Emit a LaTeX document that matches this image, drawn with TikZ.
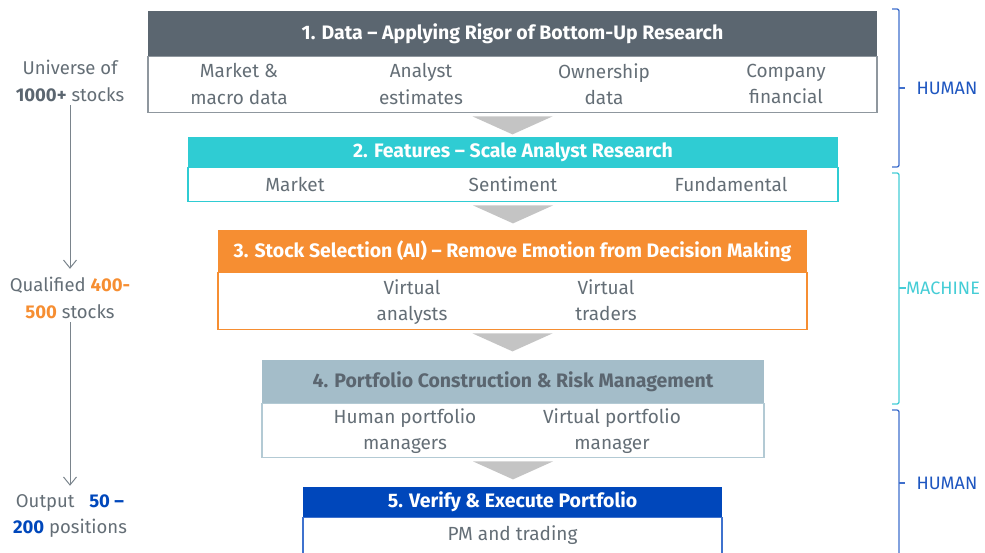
\documentclass[tikz,border=0pt]{standalone}
\usepackage{fontspec}
\setmainfont{Fira Sans}
\usetikzlibrary{positioning,arrows.meta}
\definecolor{slate}{HTML}{5B6670}
\definecolor{frame1}{HTML}{8F979E}
\definecolor{featcyan}{HTML}{2FCCD3}
\definecolor{selorange}{HTML}{F68E32}
\definecolor{portgrey}{HTML}{A4BDC9}
\definecolor{portframe}{HTML}{B3CAD4}
\definecolor{execblue}{HTML}{0047BB}
\definecolor{execframe}{HTML}{3F72CE}
\definecolor{bodytext}{HTML}{646E76}
\definecolor{wedgegrey}{HTML}{C4C4C4}
\definecolor{humanblue}{HTML}{1E56C0}
\definecolor{braceblue}{HTML}{3F6FCC}
\definecolor{machinecyan}{HTML}{45CDD6}
\definecolor{flowgrey}{HTML}{7A848C}
\begin{document}
\begin{tikzpicture}
		[x=1pt,y=-1pt,
		head/.style={minimum height=#1, inner sep=0pt, text=white,
			font=\fontsize{19.5}{22}\selectfont\bfseries},
		body/.style={minimum height=#1, inner sep=0pt, line width=1.2pt},
		txt/.style={align=center, text=bodytext, inner sep=0pt, yshift=-3pt,
			execute at begin node=\strut, execute at end node=\strut,
			font=\fontsize{19}{26.5}\selectfont},
		side/.style={align=center, text=bodytext,
			font=\fontsize{18.5}{26.5}\selectfont},
		wedge/.style={fill=wedgegrey},
		flow/.style={draw=flowgrey, line width=1pt, shorten >=5pt,
			-{Straight Barb[length=8pt,width=13pt]}},
		brace/.style={line width=1.3pt, rounded corners=2pt}]
		\useasboundingbox (0,0) rectangle (985,553);
		\node[head=45pt, fill=slate, minimum width=729pt] (data) at (512.5,33.5)
			{1. Data – Applying Rigor of Bottom-Up Research};
		\node[draw=frame1, minimum width=729pt, body=56pt, below=0pt of data] (databody) {};
		\node[txt] at (239,85) {Market \&\\macro data};
		\node[txt] at (421,85) {Analyst\\estimates};
		\node[txt] at (604,85) {Ownership\\data};
		\node[txt] at (786,85) {Company\\financial};
		\node[head=30pt, fill=featcyan, minimum width=650pt] (feat) at (513,152)
			{2. Features – Scale Analyst Research};
		\node[draw=featcyan, minimum width=650pt, body=34pt, below=0pt of feat] (featbody) {};
		\node[txt] at (295,183) {Market};
		\node[txt] at (513,183) {Sentiment};
		\node[txt] at (731,183) {Fundamental};
		\node[head=42pt, fill=selorange, minimum width=589pt] (sel) at (512.5,251)
			{3. Stock Selection (AI) – Remove Emotion from Decision Making};
		\node[draw=selorange, minimum width=589pt, body=57pt, below=0pt of sel] (selbody) {};
		\node[txt] at (412,301) {Virtual\\analysts};
		\node[txt] at (606,301) {Virtual\\traders};
		\node[head=43pt, fill=portgrey, text=slate, minimum width=502pt] (port) at (513,381.5)
			{4. Portfolio Construction \& Risk Management};
		\node[draw=portframe, minimum width=502pt, body=54pt, below=0pt of port] (portbody) {};
		\node[txt] at (405,430) {Human portfolio\\managers};
		\node[txt] at (612,430) {Virtual portfolio\\manager};
		\node[head=30pt, fill=execblue, minimum width=419pt] (exec) at (512.5,502)
			{5. Verify \& Execute Portfolio};
		\node[draw=execframe, minimum width=419pt, body=36pt, below=0pt of exec] (execbody) {};
		\node[txt] at (512.5,532) {PM and trading};
		\fill[wedge] ([xshift=-40pt,yshift=-3pt]databody.south) -- ([xshift=40pt,yshift=-3pt]databody.south) -- ([yshift=-21pt]databody.south) -- cycle;
		\fill[wedge] ([xshift=-40pt,yshift=-3pt]featbody.south) -- ([xshift=40pt,yshift=-3pt]featbody.south) -- ([yshift=-21pt]featbody.south) -- cycle;
		\fill[wedge] ([xshift=-40pt,yshift=-3pt]selbody.south) -- ([xshift=40pt,yshift=-3pt]selbody.south) -- ([yshift=-21pt]selbody.south) -- cycle;
		\fill[wedge] ([xshift=-40pt,yshift=-3pt]portbody.south) -- ([xshift=40pt,yshift=-3pt]portbody.south) -- ([yshift=-21pt]portbody.south) -- cycle;
		\node[side] (universe) at (70,81) {Universe of\\\textcolor{slate}{\textbf{1000+}} stocks};
		\node[side] (qualified) at (70,298) {Qualified \textcolor{selorange}{\textbf{400-}}\\\textcolor{selorange}{\textbf{500}} stocks};
		\node[side] (output) at (70,516) {Output\ \ \ \textcolor{execblue}{\textbf{50 –}}\\\textcolor{execblue}{\textbf{200}} positions};
		\draw[flow] (universe) -- (qualified);
		\draw[flow] (qualified) -- (output);
		\coordinate (tip1) at (899,88);
		\coordinate (tip2) at (899,288);
		\coordinate (tip3) at (899,483);
		\draw[brace, draw=braceblue] (892,9) -- (899,9) -- (899,167) -- (892,167);
		\draw[brace, draw=machinecyan] (892,173) -- (899,173) -- (899,404) -- (892,404);
		\draw[brace, draw=braceblue] (892,410) -- (899,410) -- (899,553);
		\node[anchor=west, text=humanblue, font=\fontsize{18}{20}\selectfont] (human1) at (913,88) {HUMAN};
		\node[anchor=west, inner sep=0pt, text=machinecyan, font=\fontsize{18}{20}\selectfont] (machine) at (906,288) {MACHINE};
		\node[anchor=west, text=humanblue, font=\fontsize{18}{20}\selectfont] (human2) at (913,483) {HUMAN};
		\draw[brace, draw=braceblue] (tip1) -- ++(6,0);
		\draw[brace, draw=machinecyan] (tip2) -- (machine.west);
		\draw[brace, draw=braceblue] (tip3) -- ++(6,0);
	\end{tikzpicture}
\end{document}
